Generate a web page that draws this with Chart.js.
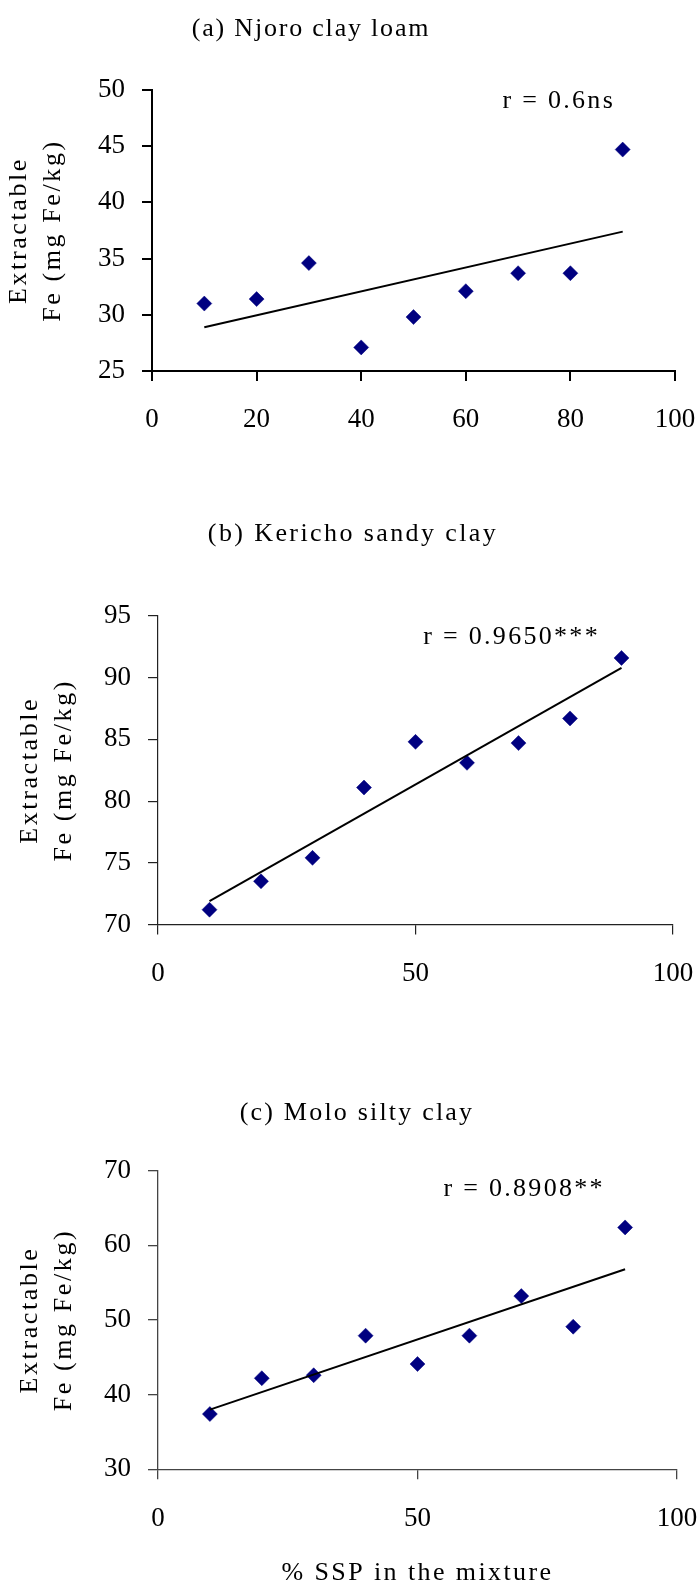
<!DOCTYPE html>
<html><head><meta charset="utf-8">
<script src="https://cdn.jsdelivr.net/npm/chart.js@4.4.1/dist/chart.umd.min.js"></script>
<style>
html,body{margin:0;padding:0;background:#fff;width:700px;height:1585px;overflow:hidden}
canvas{position:absolute;left:0;display:block}
</style></head><body>
<canvas id="cA" width="700" height="480" style="top:0px"></canvas>
<canvas id="cB" width="700" height="520" style="top:480px"></canvas>
<canvas id="cC" width="700" height="585" style="top:1000px"></canvas>
<script>
// ---- data ----
const percentSSP = [10, 20, 30, 40, 50, 60, 70, 80, 90];
const njoroFe   = [31.0, 31.4, 34.6, 27.1, 29.8, 32.1, 33.7, 33.7, 44.7];
const kerichoFe = [71.2, 73.5, 75.4, 81.1, 84.8, 83.1, 84.7, 86.7, 91.6];
const moloFe    = [37.4, 42.2, 42.6, 47.9, 44.1, 47.9, 53.2, 49.1, 62.4];

// trend line end points
const trendX       = [10, 90];
const njoroTrend   = [28.9, 37.4];
const kerichoTrend = [71.9, 90.8];
const moloTrend    = [38.0, 56.8];

// tick labels
const njoroXTicks   = [0, 20, 40, 60, 80, 100];
const njoroYTicks   = [25, 30, 35, 40, 45, 50];
const kerichoXTicks = [0, 50, 100];
const kerichoYTicks = [70, 75, 80, 85, 90, 95];
const moloXTicks    = [0, 50, 100];
const moloYTicks    = [30, 40, 50, 60, 70];

// texts
const panelTitles = ['(a) Njoro clay loam', '(b) Kericho sandy clay', '(c) Molo silty clay'];
const rLabels     = ['r = 0.6ns', 'r = 0.9650***', 'r = 0.8908**'];
const yTitleLines = ['Extractable', 'Fe (mg Fe/kg)'];
const xTitleText  = '% SSP in the mixture';

const SERIF = "'Liberation Serif', 'Times New Roman', serif";

const textPlugin = {
  id: 'panelText',
  beforeDraw(chart, args, opts) {
    Object.values(chart.scales).forEach(s => {
      if (s._lsPatched) return;
      const orig = s.drawTitle;
      const spacing = s.axis === 'x' ? opts.xAxisSpacing : opts.yAxisSpacing;
      s.drawTitle = function () {
        const c = this.ctx;
        c.save();
        c.letterSpacing = spacing || '0px';
        orig.apply(this, arguments);
        c.restore();
      };
      s._lsPatched = true;
    });
  },
  afterDraw(chart, args, opts) {
    const ctx = chart.ctx;
    ctx.save();
    ctx.fillStyle = '#000';
    ctx.textBaseline = 'middle';
    ctx.textAlign = 'center';
    ctx.font = opts.titleFont;
    ctx.letterSpacing = opts.titleSpacing;
    ctx.fillText(opts.title, opts.titleX, opts.titleY);
    ctx.textAlign = 'left';
    ctx.font = opts.rFont;
    ctx.letterSpacing = opts.rSpacing;
    ctx.fillText(opts.rText,
      chart.scales.x.getPixelForValue(opts.rAt[0]),
      chart.scales.y.getPixelForValue(opts.rAt[1]));
    ctx.restore();
  }
};

function makeChart(id, p) {
  const axisGrid = {
    display: true, drawOnChartArea: false, drawTicks: true, tickLength: 10,
    color: p.axisColor, lineWidth: p.axisWidth
  };
  const axisBorder = { display: true, color: p.axisColor, width: p.axisWidth };
  return new Chart(document.getElementById(id), {
    type: 'scatter',
    data: {
      datasets: [
        {
          type: 'line',
          data: trendX.map((x, i) => ({ x: x, y: p.trend[i] })),
          borderColor: '#000', borderWidth: 2, pointRadius: 0, fill: false,
          order: 0
        },
        {
          data: percentSSP.map((x, i) => ({ x: x, y: p.values[i] })),
          pointStyle: 'rectRot', pointRadius: 7.5, hoverRadius: 0,
          backgroundColor: '#000080', borderColor: '#000080', borderWidth: 0.5,
          order: 1
        }
      ]
    },
    options: {
      responsive: false, animation: false, events: [],
      layout: { autoPadding: false, padding: { left: 0, right: p.padRight, top: p.padTop, bottom: 0 } },
      plugins: {
        legend: { display: false }, tooltip: { enabled: false }, title: { display: false },
        panelText: {
          title: p.title, titleX: p.titleX, titleY: p.titleY,
          titleFont: '26px ' + SERIF, titleSpacing: p.titleSpacing,
          rText: p.rText, rAt: p.rAt, rFont: '26px ' + SERIF, rSpacing: '2.3px',
          yAxisSpacing: '2.6px', xAxisSpacing: '2.4px'
        }
      },
      scales: {
        x: {
          type: 'linear', min: p.xTicks[0], max: p.xTicks[p.xTicks.length - 1],
          afterBuildTicks: s => { s.ticks = p.xTicks.map(v => ({ value: v })); },
          afterFit: s => { s.height = p.xHeight; s.paddingLeft = 0; s.paddingRight = 0; },
          grid: axisGrid, border: axisBorder,
          ticks: { color: '#000', font: { family: SERIF, size: 27 }, padding: 23, maxRotation: 0, autoSkip: false },
          title: p.xTitle ? {
            display: true, text: p.xTitle, color: '#000',
            font: { family: SERIF, size: 26, lineHeight: 1.0 }, padding: { top: 0, bottom: -1 }
          } : { display: false }
        },
        y: {
          type: 'linear', min: p.yTicks[0], max: p.yTicks[p.yTicks.length - 1],
          afterBuildTicks: s => { s.ticks = p.yTicks.map(v => ({ value: v })); },
          afterFit: s => { s.width = p.left; s.paddingTop = 0; s.paddingBottom = 0; },
          grid: axisGrid, border: axisBorder,
          ticks: { color: '#000', font: { family: SERIF, size: 27 }, padding: 17, autoSkip: false },
          title: {
            display: true, text: yTitleLines, color: '#000',
            font: { family: SERIF, size: 26, lineHeight: 1.3 },
            padding: { top: p.yTitlePad, bottom: 0 }
          }
        }
      }
    },
    plugins: [textPlugin]
  });
}

makeChart('cA', {
  values: njoroFe, trend: njoroTrend, xTicks: njoroXTicks, yTicks: njoroYTicks,
  left: 152, padRight: 25, padTop: 90, xHeight: 109,
  axisColor: '#000', axisWidth: 2, yTitlePad: 2.1,
  title: panelTitles[0], titleX: 311, titleY: 29, titleSpacing: '1.8px',
  rText: rLabels[0], rAt: [67, 49]
});
makeChart('cB', {
  values: kerichoFe, trend: kerichoTrend, xTicks: kerichoXTicks, yTicks: kerichoYTicks,
  left: 158, padRight: 27, padTop: 136, xHeight: 75.5,
  axisColor: '#222', axisWidth: 1.2, yTitlePad: 13.6,
  title: panelTitles[1], titleX: 353, titleY: 54, titleSpacing: '2.4px',
  rText: rLabels[1], rAt: [51.5, 93.3]
});
makeChart('cC', {
  values: moloFe, trend: moloTrend, xTicks: moloXTicks, yTicks: moloYTicks,
  left: 158, padRight: 23, padTop: 170.7, xHeight: 115.7,
  axisColor: '#444', axisWidth: 1.3, yTitlePad: 13.6,
  title: panelTitles[2], titleX: 357, titleY: 113, titleSpacing: '2.2px',
  rText: rLabels[2], rAt: [55, 67.5], xTitle: xTitleText
});
</script>
</body></html>
